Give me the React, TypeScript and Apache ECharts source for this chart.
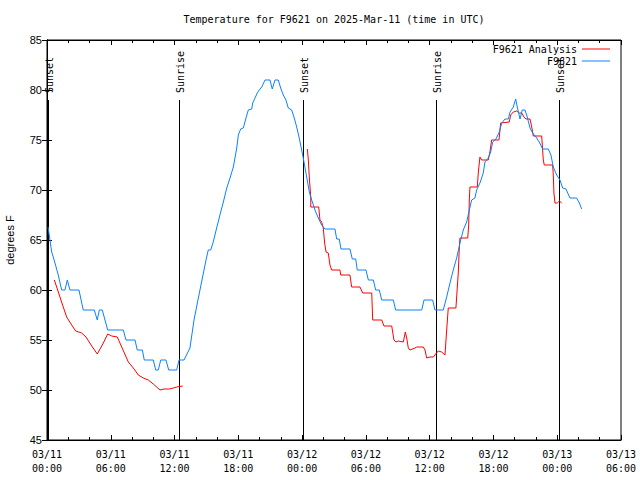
import React, { useEffect, useRef } from "react";
import * as echarts from "echarts";

// Hours since 2025-03-11 00:00 UTC, temperature in degrees F
const observed: [number, number][] = [
  [0.1, 66.3], [0.44, 63.8], [0.59, 63.3], [0.75, 62.7], [1.06, 61.5], [1.38, 60], [1.69, 60], [1.91, 61],
  [2.16, 60], [3.01, 60], [3.41, 58], [4.45, 58], [4.73, 57], [4.92, 58], [5.2, 58], [5.71, 56], [7.18, 56],
  [7.43, 55], [8.28, 55], [8.49, 54], [8.97, 54], [9.15, 53], [10.0, 53], [10.23, 52], [10.47, 52], [10.7, 53],
  [11.19, 53], [11.45, 52], [12.2, 52], [12.42, 53], [12.89, 53], [13.45, 54.2], [13.83, 57], [14.2, 59],
  [14.58, 61], [14.96, 63], [15.17, 64], [15.4, 64], [15.64, 64.8], [15.96, 66.2], [16.27, 67.5], [16.59, 68.8],
  [16.91, 70.2], [17.22, 71.2], [17.53, 72.3], [17.85, 74.2], [18.0, 75.5], [18.22, 76.1], [18.47, 76.2],
  [18.72, 77.2], [18.94, 78], [19.26, 78.1], [19.35, 78.7], [19.57, 79.2], [19.78, 79.7], [19.97, 80],
  [20.2, 80.3], [20.51, 81], [20.98, 81], [21.19, 80.1], [21.45, 81], [21.76, 81], [21.98, 80.2], [22.23, 79.5],
  [22.48, 79], [22.7, 78.2], [23.02, 78], [23.26, 77.2], [23.49, 76.3], [23.73, 75.2], [23.96, 74], [24.11, 73.2],
  [24.43, 71.3], [24.68, 69.8], [24.9, 69], [25.21, 68], [25.52, 67.2], [25.84, 66.5], [26.15, 66.1], [27.09, 66.1],
  [27.25, 65.1], [27.49, 65.1], [27.66, 64.1], [28.5, 64.1], [28.72, 63.1], [29.04, 63.1], [29.19, 62], [30.01, 62],
  [30.23, 61], [30.7, 61], [30.92, 60], [31.26, 60], [31.49, 59], [32.58, 59], [32.8, 58], [35.25, 58], [35.47, 59],
  [36.28, 59], [36.5, 58], [37.28, 58], [37.6, 59.3], [37.91, 60.7], [38.22, 62], [38.54, 63.2], [38.85, 64.7],
  [39.16, 66], [39.48, 66.8], [39.73, 68], [39.95, 69], [40.26, 69.2], [40.42, 70], [40.73, 70.7], [41.04, 71.7],
  [41.2, 72.8], [41.51, 73.2], [41.74, 73.8], [41.93, 74.8], [42.24, 75.1], [42.55, 75.8], [42.78, 76.7],
  [43.09, 77.1], [43.4, 77.1], [43.56, 77.8], [43.87, 78.3], [44.09, 79.1], [44.24, 78.3], [44.5, 77.1],
  [44.71, 78], [44.97, 78], [45.18, 77.3], [45.44, 76.2], [45.69, 75.7], [46.0, 75.3], [46.31, 74.8], [46.63, 74.1],
  [47.16, 74.1], [47.41, 73.5], [47.63, 72.3], [47.95, 71.5], [48.26, 71], [48.51, 70.2], [48.82, 70.1],
  [49.2, 69.2], [49.83, 69.2], [50.08, 68.7], [50.3, 68.1],
];

const analysisPart1: [number, number][] = [
  [0.69, 61], [1.22, 59.3], [1.53, 58.3], [1.85, 57.3], [2.32, 56.5], [2.7, 55.9], [3.26, 55.7], [3.67, 55.3],
  [4.21, 54.4], [4.73, 53.6], [5.3, 54.7], [5.71, 55.6], [6.09, 55.4], [6.61, 55.3], [7.03, 54.3], [7.65, 52.8],
  [8.12, 52.2], [8.59, 51.5], [9.06, 51.2], [9.53, 51.0], [10.0, 50.6], [10.63, 50.0], [11.01, 50.1],
  [11.51, 50.1], [11.88, 50.2], [12.2, 50.3], [12.77, 50.4],
];

const analysisPart2: [number, number][] = [
  [24.49, 74.1], [24.58, 73.1], [24.68, 71.2], [24.81, 69.3], [24.82, 68.3], [25.56, 68.3], [25.68, 67],
  [25.84, 66.8], [25.99, 66.2], [26.12, 64.7], [26.25, 63.8], [26.46, 63.7], [26.62, 62.5], [26.78, 62],
  [27.56, 62], [27.63, 61.5], [28.5, 61.5], [28.66, 60.3], [29.44, 60.3], [29.7, 59.7], [30.55, 59.7],
  [30.64, 57], [31.49, 57], [31.7, 56.4], [32.43, 56.4], [32.64, 55], [32.83, 54.8], [33.05, 54.9], [33.52, 54.8],
  [33.71, 55.8], [33.84, 55.2], [33.99, 54.2], [34.15, 54], [34.62, 54.2], [34.78, 54.3], [35.4, 54.3],
  [35.56, 54], [35.72, 53.2], [36.03, 53.3], [36.34, 53.3], [36.57, 53.6], [36.81, 53.9], [37.13, 53.8],
  [37.44, 53.5], [37.6, 56], [37.75, 58.2], [38.47, 58.2], [38.54, 59.3], [38.69, 61.7], [38.78, 64], [38.85, 65.2],
  [39.58, 65.2], [39.67, 66.5], [39.73, 69], [39.79, 70.3], [40.48, 70.3], [40.58, 71.8], [40.73, 73.3],
  [40.89, 73], [41.51, 73], [41.67, 73.8], [41.83, 75], [42.52, 75], [42.68, 76.7], [43.49, 76.8], [43.62, 77.5],
  [43.87, 77.8], [44.18, 77.9], [44.43, 77.7], [44.66, 77.7], [44.87, 77.3], [45.06, 77.1], [45.44, 77.1],
  [45.6, 76.3], [45.75, 75.4], [46.54, 75.4], [46.69, 73], [46.78, 72.5], [47.57, 72.5], [47.63, 71.5],
  [47.69, 69.7], [47.79, 68.7], [48.01, 68.7], [48.2, 68.9], [48.42, 68.7],
];

const eventHours = [0.1, 12.45, 24.11, 36.56, 48.19];
const eventLabels = ["Sunset", "Sunrise", "Sunset", "Sunrise", "Sunset"];
const eventLineTop = 79;

const xTickLabels = [
  "03/11\n00:00", "03/11\n06:00", "03/11\n12:00", "03/11\n18:00", "03/12\n00:00",
  "03/12\n06:00", "03/12\n12:00", "03/12\n18:00", "03/13\n00:00", "03/13\n06:00",
];

const MONO = '"DejaVu Sans Mono", "Liberation Mono", monospace';
const SANS = '"Liberation Sans", Arial, sans-serif';

export default function App() {
  const ref = useRef<HTMLDivElement>(null);

  useEffect(() => {
    if (!ref.current) return;
    const chart = echarts.init(ref.current, undefined, { renderer: "svg" });

    const xCommon = {
      type: "value",
      min: 0,
      max: 54,
      interval: 6,
      axisLine: { show: true, lineStyle: { color: "#000", width: 1 } },
      axisTick: { show: true, inside: true, length: 5, lineStyle: { color: "#000" } },
      minorTick: { show: true, splitNumber: 3, length: 3, lineStyle: { color: "#000" } },
      splitLine: { show: false },
      minorSplitLine: { show: false },
    };
    const yCommon = {
      type: "value",
      min: 45,
      max: 85,
      interval: 5,
      axisLine: { show: true, lineStyle: { color: "#000", width: 1 } },
      axisTick: { show: true, inside: true, length: 5, lineStyle: { color: "#000" } },
      splitLine: { show: false },
    };

    const legendCommon = {
      orient: "vertical",
      align: "right",
      right: 30,
      icon: "rect",
      itemWidth: 28,
      itemHeight: 1,
      padding: 0,
      selectedMode: false,
      textStyle: { fontFamily: MONO, fontSize: 10, color: "#000" },
    };

    chart.setOption({
      animation: false,
      grid: {
        left: 47, right: 19, top: 40, bottom: 40,
        containLabel: false,
        outerBoundsMode: "none",
        show: true, borderColor: "#000", borderWidth: 1, backgroundColor: "transparent",
      },
      graphic: [
        {
          type: "text",
          x: 334,
          y: 19,
          style: {
            text: "Temperature for F9621 on 2025-Mar-11 (time in UTC)",
            font: `10px ${MONO}`,
            fill: "#000",
            align: "center",
            verticalAlign: "middle",
          },
        },
      ],
      legend: [
        { ...legendCommon, top: 44, data: ["F9621 Analysis"] },
        { ...legendCommon, top: 56, data: ["F9621"] },
      ],
      xAxis: [
        {
          ...xCommon,
          position: "bottom",
          axisLabel: {
            fontFamily: MONO,
            fontSize: 10,
            color: "#000",
            lineHeight: 14,
            margin: 7,
            formatter: (v: number) => xTickLabels[Math.round(v / 6)] ?? "",
          },
        },
        { ...xCommon, position: "top", axisLabel: { show: false } },
      ],
      yAxis: [
        {
          ...yCommon,
          position: "left",
          name: "degrees F",
          nameLocation: "middle",
          nameRotate: 90,
          nameGap: 32,
          nameTextStyle: { fontFamily: SANS, fontSize: 11, color: "#000" },
          axisLabel: { fontFamily: SANS, fontSize: 11, color: "#000", margin: 5 },
        },
        { ...yCommon, position: "right", axisLabel: { show: false } },
      ],
      series: [
        {
          type: "custom",
          name: "events",
          xAxisIndex: 0,
          yAxisIndex: 0,
          silent: true,
          data: eventHours.map((h) => [h, eventLineTop]),
          renderItem: (params: any, api: any) => {
            const h = api.value(0);
            const top = api.value(1);
            const p0 = api.coord([h, 45]);
            const p1 = api.coord([h, top]);
            const x = Math.round(p0[0]) + 0.5;
            return {
              type: "group",
              children: [
                {
                  type: "line",
                  shape: { x1: x, y1: p0[1], x2: x, y2: p1[1] },
                  style: { stroke: "#000", lineWidth: 1 },
                },
                {
                  type: "text",
                  x: x + 0.5,
                  y: p1[1] - 7,
                  rotation: Math.PI / 2,
                  style: {
                    text: eventLabels[params.dataIndex],
                    font: `10px ${MONO}`,
                    fill: "#000",
                    align: "left",
                    verticalAlign: "middle",
                  },
                },
              ],
            };
          },
        },
        {
          type: "line",
          name: "F9621 Analysis",
          data: analysisPart1,
          symbol: "none",
          color: "#ff0000",
          lineStyle: { color: "#ff0000", width: 1 },
        },
        {
          type: "line",
          name: "F9621 Analysis",
          data: analysisPart2,
          symbol: "none",
          color: "#ff0000",
          lineStyle: { color: "#ff0000", width: 1 },
        },
        {
          type: "line",
          name: "F9621",
          data: observed,
          symbol: "none",
          color: "#0a80ff",
          lineStyle: { color: "#0a80ff", width: 1 },
        },
      ],
    });

    return () => chart.dispose();
  }, []);

  return (
    <div
      ref={ref}
      style={{ position: "fixed", left: 0, top: 0, width: 640, height: 480, background: "#fff" }}
    />
  );
}
